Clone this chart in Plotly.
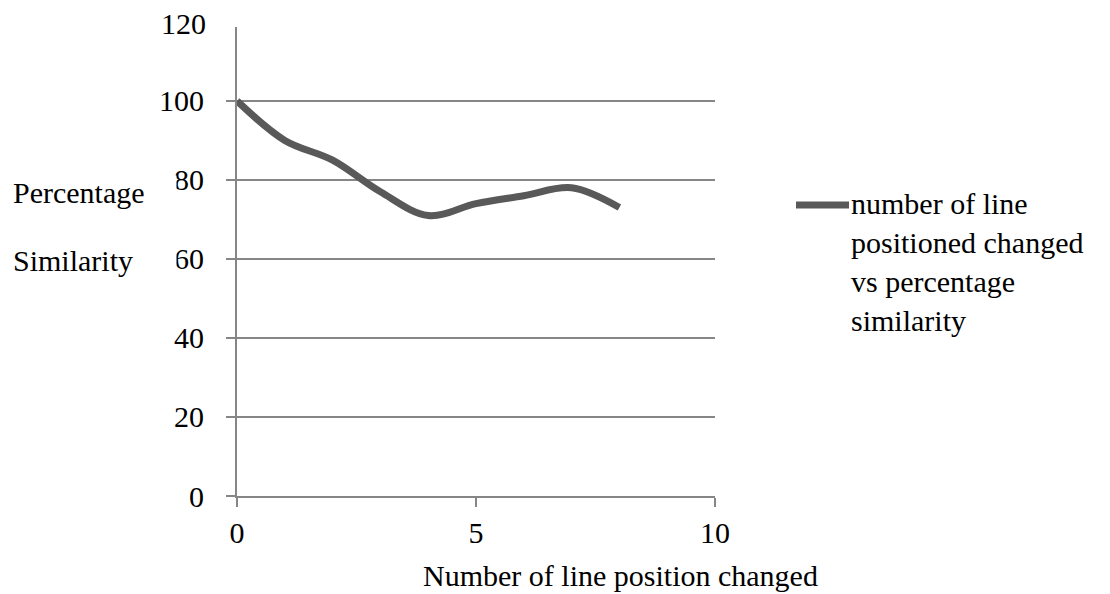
import plotly.graph_objects as go

# Number of line positions changed vs. percentage similarity
positions_changed = [0, 1, 2, 3, 4, 5, 6, 7, 8]
similarity_pct = [100, 90, 85, 77, 71, 74, 76, 78, 73]

y_ticks = [0, 20, 40, 60, 80, 100]
x_ticks = [0, 5, 10]
series_name = "number of line<br>positioned changed<br>vs percentage<br>similarity"

FONT = "'Liberation Serif', 'Times New Roman', serif"
FSIZE = 30
AXIS_GREY = "#868686"
LINE_GREY = "#595959"

W, H = 1110, 594
ML, MR, MT, MB = 237, 395, 27, 98
PW, PH = W - ML - MR, H - MT - MB


def px_x(px):
    """Pixel column -> paper x (relative to the plotting area)."""
    return (px - ML) / PW


def px_y(py):
    """Pixel row -> paper y (relative to the plotting area)."""
    return (H - MB - py) / PH


fig = go.Figure()
fig.add_trace(go.Scatter(
    x=positions_changed,
    y=similarity_pct,
    mode="lines",
    line=dict(color=LINE_GREY, width=7, shape="spline", smoothing=1.0),
    name=series_name.replace("<br>", " "),
    showlegend=False,
    cliponaxis=False,
))

axis_common = dict(
    zeroline=False,
    showline=True,
    linecolor=AXIS_GREY,
    linewidth=2,
    ticks="outside",
    ticklen=9,
    tickwidth=2,
    tickcolor=AXIS_GREY,
)

fig.update_layout(
    width=W,
    height=H,
    margin=dict(l=ML, r=MR, t=MT, b=MB),
    paper_bgcolor="white",
    plot_bgcolor="white",
    font=dict(family=FONT, size=FSIZE, color="black"),
    xaxis=dict(range=[0, 10], tickvals=x_ticks, showgrid=False,
               ticklabelstandoff=0, **axis_common),
    yaxis=dict(range=[0, 118.7], tickvals=y_ticks, showgrid=True,
               gridcolor=AXIS_GREY, gridwidth=2,
               ticklabelstandoff=16, **axis_common),
)

text_font = dict(family=FONT, size=FSIZE, color="black")

# Top tick label sits just above the plotted range
fig.add_annotation(
    x=px_x(208), y=px_y(24), xref="paper", yref="paper",
    text="120", showarrow=False,
    xanchor="right", yanchor="middle",
    font=text_font,
)

# Y-axis title, two left-aligned lines on white boxes
for label, ypix in (("Percentage", 192), ("Similarity", 260)):
    fig.add_annotation(
        x=px_x(12), y=px_y(ypix), xref="paper", yref="paper",
        text=label, showarrow=False,
        xanchor="left", yanchor="middle",
        width=163, align="left",
        bgcolor="white", borderpad=0,
        font=text_font,
    )

# X-axis title
fig.add_annotation(
    x=px_x(620), y=px_y(575), xref="paper", yref="paper",
    text="Number of line position changed", showarrow=False,
    xanchor="center", yanchor="middle",
    font=text_font,
)

# Legend: line swatch and wrapped series name
fig.add_shape(
    type="line", xref="paper", yref="paper",
    x0=px_x(796), x1=px_x(849), y0=px_y(205), y1=px_y(205),
    line=dict(color=LINE_GREY, width=7),
)
fig.add_annotation(
    x=px_x(849), y=px_y(262), xref="paper", yref="paper",
    text=series_name, showarrow=False,
    xanchor="left", yanchor="middle", align="left",
    font=text_font,
)

fig.write_html("out.html")
